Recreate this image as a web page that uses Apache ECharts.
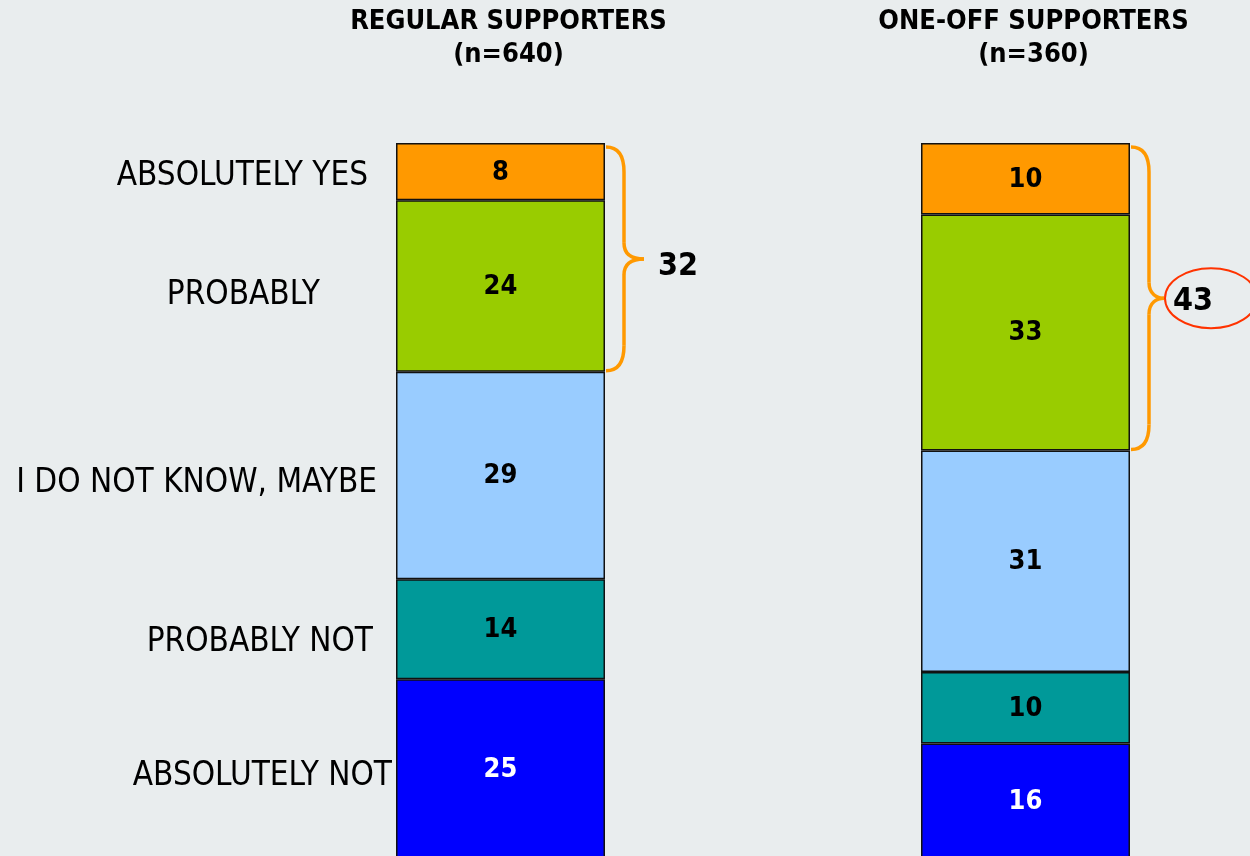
<!DOCTYPE html>
<html>
<head>
<meta charset="utf-8">
<script src="https://cdn.jsdelivr.net/npm/echarts@6/dist/echarts.min.js"></script>
<style>
  html, body { margin: 0; padding: 0; background: #e9edee; }
  #main { width: 1250px; height: 856px; }
</style>
</head>
<body>
<div id="main"></div>
<script>
var groups = ['REGULAR SUPPORTERS\n(n=640)', 'ONE-OFF SUPPORTERS\n(n=360)'];
// bottom to top
var answers = ['ABSOLUTELY NOT', 'PROBABLY NOT', 'I DO NOT KNOW, MAYBE', 'PROBABLY', 'ABSOLUTELY YES'];
var absolutelyNot = [25, 16];
var probablyNot = [14, 10];
var dontKnow = [29, 31];
var probably = [24, 33];
var absolutelyYes = [8, 10];
var colors = ['#0000ff', '#009999', '#99ccff', '#99cc00', '#ff9900'];

var allValues = [absolutelyNot, probablyNot, dontKnow, probably, absolutelyYes];
var FONT = '"DejaVu Sans Condensed", "DejaVu Sans", sans-serif';
var BAR_W = 209;

var chartDom = document.getElementById('main');
var myChart = echarts.init(chartDom);

var series = answers.map(function (name, i) {
  return {
    name: name,
    type: 'bar',
    stack: 'total',
    data: allValues[i],
    barWidth: BAR_W,
    itemStyle: { color: colors[i], borderColor: '#111', borderWidth: 1.5 },
    label: {
      show: true,
      position: 'inside',
      offset: [0, 1],
      fontFamily: FONT,
      fontWeight: 'bold',
      fontSize: 27,
      color: i === 0 ? '#fff' : '#000'
    },
    animation: false
  };
});

var option = {
  backgroundColor: '#e9edee',
  grid: { left: 238, width: 1050, top: 143, height: 715, outerBoundsMode: 'none', containLabel: false },
  xAxis: {
    type: 'category',
    position: 'top',
    data: groups,
    axisLine: { show: false },
    axisTick: { show: false },
    axisLabel: {
      margin: 72,
      interval: 0,
      fontFamily: FONT,
      fontWeight: 'bold',
      fontSize: 27,
      lineHeight: 33,
      color: '#000',
      padding: [0, 0, 0, 16]
    }
  },
  yAxis: { type: 'value', min: 0, max: 100, show: false },
  series: series,
  animation: false
};

myChart.setOption(option);

// positions of stacked boundaries in pixels
function stackY(bar, upTo) {
  var sum = 0;
  for (var i = 0; i < upTo; i++) sum += allValues[i][bar];
  return myChart.convertToPixel({ xAxisIndex: 0, yAxisIndex: 0 }, [bar, sum]);
}

var graphic = [];

// answer labels left of the first bar
var labelGap = [4, 23, 19, 76, 28];
var labelNudge = [8, 13, 8, 9, 5];
answers.forEach(function (name, i) {
  var lo = stackY(0, i), hi = stackY(0, i + 1);
  var left = lo[0] - BAR_W / 2;
  graphic.push({
    type: 'text',
    x: left - labelGap[i],
    y: (lo[1] + hi[1]) / 2 + labelNudge[i],
    style: {
      text: name,
      font: '33px ' + FONT,
      fill: '#000',
      align: 'right',
      verticalAlign: 'middle'
    }
  });
});

// braces around the two top answers
var braceStyle = { fill: 'none', stroke: '#ff9900', lineWidth: 3.5 };
var textDx = [14, 9];
var textDy = [8, 3];
var tipW = [38, 33];
[0, 1].forEach(function (bar) {
  var top = stackY(bar, 5), bot = stackY(bar, 3);
  var x0 = top[0] + BAR_W / 2 + 1;
  var y0 = top[1] + 4, y1 = bot[1] - 1;
  var ym = (y0 + y1) / 2;
  var xv = x0 + 18, xt = x0 + tipW[bar];
  graphic.push(
    { type: 'bezierCurve', shape: { x1: x0, y1: y0, cpx1: x0 + 13, cpy1: y0, cpx2: xv, cpy2: y0 + 9, x2: xv, y2: y0 + 25 }, style: braceStyle },
    { type: 'line', shape: { x1: xv, y1: y0 + 25, x2: xv, y2: ym - 16 }, style: braceStyle },
    { type: 'bezierCurve', shape: { x1: xv, y1: ym - 16, cpx1: xv, cpy1: ym - 4, cpx2: xv + 8, cpy2: ym, x2: xt, y2: ym }, style: braceStyle },
    { type: 'bezierCurve', shape: { x1: xt, y1: ym, cpx1: xv + 8, cpy1: ym, cpx2: xv, cpy2: ym + 4, x2: xv, y2: ym + 16 }, style: braceStyle },
    { type: 'line', shape: { x1: xv, y1: ym + 16, x2: xv, y2: y1 - 25 }, style: braceStyle },
    { type: 'bezierCurve', shape: { x1: xv, y1: y1 - 25, cpx1: xv, cpy1: y1 - 9, cpx2: x0 + 13, cpy2: y1, x2: x0, y2: y1 }, style: braceStyle }
  );
  var total = probably[bar] + absolutelyYes[bar];
  graphic.push({
    type: 'text',
    x: xt + textDx[bar],
    y: ym + textDy[bar],
    style: {
      text: String(total),
      font: 'bold 32px ' + FONT,
      fill: '#000',
      align: 'left',
      verticalAlign: 'middle'
    }
  });
  if (bar === 1) {
    graphic.push({
      type: 'ellipse',
      shape: { cx: xt + 47, cy: ym, rx: 46, ry: 30 },
      style: { fill: 'none', stroke: '#ff3300', lineWidth: 2 }
    });
  }
});

myChart.setOption({ graphic: graphic });

window.addEventListener('resize', function () { myChart.resize(); });
</script>
</body>
</html>
